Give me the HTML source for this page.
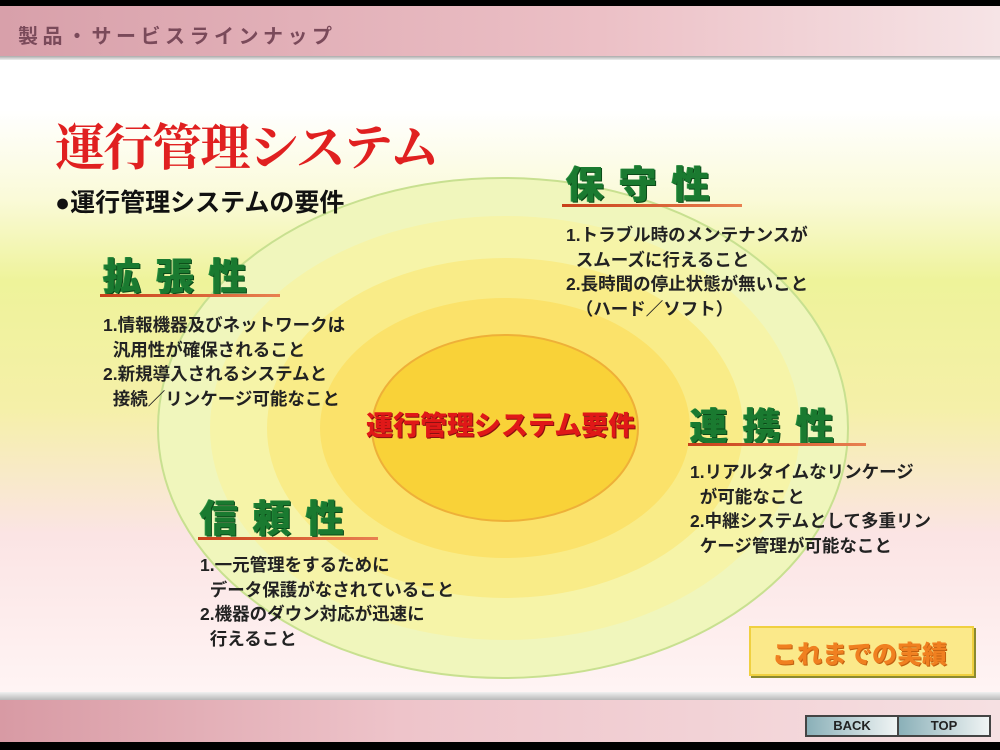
<!DOCTYPE html>
<html><head><meta charset="utf-8"><style>
body{margin:0;width:1000px;height:750px;overflow:hidden;font-family:"Liberation Sans","Noto Sans CJK JP",sans-serif;position:relative;background:#fff}
.a{position:absolute;white-space:nowrap}
.h{font-weight:900;color:#1a7a30;font-size:38px;letter-spacing:15px;text-shadow:1px 1px 0 #0b4a18,-1px 0 0 #2a9040}
.ul{position:absolute;height:3px;background:linear-gradient(90deg,#c8401a,#e88050)}
.t{font-size:17.5px;line-height:24.5px;color:#222;font-weight:bold}
</style></head><body>
<div class="a" style="left:0;top:0;width:1000px;height:6px;background:#000"></div>
<div class="a" style="left:0;top:6px;width:1000px;height:50px;background:linear-gradient(90deg,#d8a0aa,#ecc0c6 60%,#f6e4e6)"></div>
<div class="a" style="left:0;top:56px;width:1000px;height:4px;background:linear-gradient(#aaa,#eee)"></div>
<div class="a" style="left:18px;top:20px;font-size:20px;color:#7a4a5a;letter-spacing:4.5px;font-weight:bold">製品・サービスラインナップ</div>
<div class="a" style="left:0;top:60px;width:1000px;height:632px;background:linear-gradient(180deg,#fff 0%,#fff 8%,#fafad8 22%,#eef39a 35%,#f5f0a8 55%,#fbe4e4 75%,#fff4f4 100%)"></div>
<svg class="a" style="left:0;top:0" width="1000" height="750">
<ellipse cx="503" cy="428" rx="345" ry="250" fill="#f0f6bc" stroke="#c8e090" stroke-width="2"/>
<ellipse cx="505" cy="428" rx="295" ry="212" fill="#f6f4a8"/>
<ellipse cx="505" cy="428" rx="238" ry="170" fill="#f9ec88"/>
<ellipse cx="505" cy="428" rx="185" ry="130" fill="#fbe26a"/>
<ellipse cx="505" cy="428" rx="133" ry="93" fill="#f9d238" stroke="#eeb038" stroke-width="2"/>
</svg>
<div class="a" style="left:55px;top:108px;font-size:50px;font-weight:bold;color:#e02020;font-family:'Liberation Serif','Noto Serif CJK SC',serif;letter-spacing:-1.5px">運行管理システム</div>
<div class="a" style="left:55px;top:183px;font-size:25px;font-weight:bold;color:#111">●運行管理システムの要件</div>

<div class="a h" style="left:103px;top:246px">拡張性</div><div class="ul" style="left:100px;top:294px;width:180px"></div>
<div class="a t" style="left:103px;top:313px">1.情報機器及びネットワークは<br>&nbsp;&nbsp;汎用性が確保されること<br>2.新規導入されるシステムと<br>&nbsp;&nbsp;接続／リンケージ可能なこと</div>

<div class="a h" style="left:566px;top:154px">保守性</div><div class="ul" style="left:562px;top:204px;width:180px"></div>
<div class="a t" style="left:566px;top:223px">1.トラブル時のメンテナンスが<br>&nbsp;&nbsp;スムーズに行えること<br>2.長時間の停止状態が無いこと<br>&nbsp;&nbsp;（ハード／ソフト）</div>

<div class="a h" style="left:690px;top:396px">連携性</div><div class="ul" style="left:688px;top:443px;width:178px"></div>
<div class="a t" style="left:690px;top:460px">1.リアルタイムなリンケージ<br>&nbsp;&nbsp;が可能なこと<br>2.中継システムとして多重リン<br>&nbsp;&nbsp;ケージ管理が可能なこと</div>

<div class="a h" style="left:200px;top:488px">信頼性</div><div class="ul" style="left:198px;top:537px;width:180px"></div>
<div class="a t" style="left:200px;top:553px">1.一元管理をするために<br>&nbsp;&nbsp;データ保護がなされていること<br>2.機器のダウン対応が迅速に<br>&nbsp;&nbsp;行えること</div>

<div class="a" style="left:366px;top:404px;font-size:27px;font-weight:900;color:#e01818;text-shadow:1px 1px 0 #8a1010;letter-spacing:0px">運行管理システム要件</div>

<div class="a" style="left:749px;top:626px;width:225px;height:50px;background:#fbe98a;border:2px solid #f0d040;box-shadow:2px 2px 0 #8a8a30;box-sizing:border-box"></div>
<div class="a" style="left:772px;top:635px;font-size:25px;font-weight:900;color:#f08020;text-shadow:1px 1px 0 #c06010">これまでの実績</div>

<div class="a" style="left:0;top:692px;width:1000px;height:8px;background:linear-gradient(#f0f0f0,#b8b8b8)"></div>
<div class="a" style="left:0;top:700px;width:1000px;height:42px;background:linear-gradient(90deg,#d89aa4,#eec4ca 40%,#f6e0e2)"></div>
<div class="a" style="left:0;top:742px;width:1000px;height:8px;background:#000"></div>
<div class="a" style="left:805px;top:715px;width:90px;height:18px;border:2px solid #444;background:linear-gradient(90deg,#8ab0b8,#f0f4f4);font-size:13px;font-weight:bold;text-align:center;line-height:18px;color:#222">BACK</div>
<div class="a" style="left:897px;top:715px;width:90px;height:18px;border:2px solid #444;background:linear-gradient(90deg,#8ab0b8,#f0f4f4);font-size:13px;font-weight:bold;text-align:center;line-height:18px;color:#222">TOP</div>
</body></html>
